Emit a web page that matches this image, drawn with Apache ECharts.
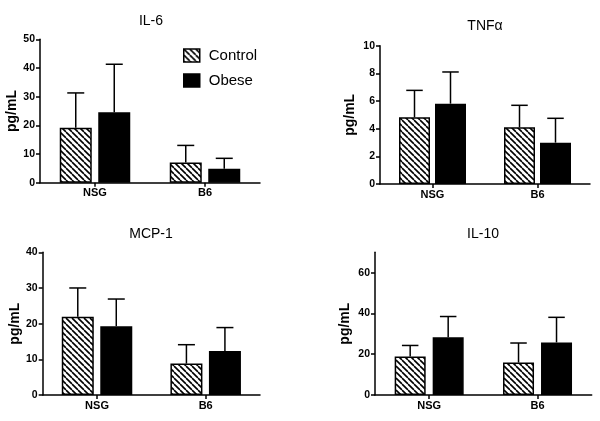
<!DOCTYPE html>
<html>
<head>
<meta charset="utf-8">
<script src="https://cdn.jsdelivr.net/npm/echarts@6/dist/echarts.min.js"></script>
<style>html,body{margin:0;padding:0;background:#fff}#c{width:600px;height:421px}</style>
</head>
<body>
<div id="c"></div>
<script>
// ---- data ----
var categories = ['NSG', 'B6'];
var seriesNames = ['Control', 'Obese'];
var panelTitles = ['IL-6', 'TNF\u03B1', 'MCP-1', 'IL-10'];
var yAxisName = 'pg/mL';

var il6Control = [19.2, 7.0];
var il6ControlErr = [12.1, 6.0];
var il6Obese = [24.6, 4.9];
var il6ObeseErr = [16.7, 3.6];

var tnfControl = [4.82, 4.1];
var tnfControlErr = [1.95, 1.59];
var tnfObese = [5.81, 2.99];
var tnfObeseErr = [2.29, 1.76];

var mcpControl = [21.9, 8.8];
var mcpControlErr = [8.1, 5.3];
var mcpObese = [19.3, 12.3];
var mcpObeseErr = [7.6, 6.6];

var il10Control = [18.9, 15.9];
var il10ControlErr = [5.4, 9.6];
var il10Obese = [28.3, 25.8];
var il10ObeseErr = [10.2, 12.3];

var il6Ticks = [0, 10, 20, 30, 40, 50];
var tnfTicks = [0, 2, 4, 6, 8, 10];
var mcpTicks = [0, 10, 20, 30, 40];
var il10Ticks = [0, 20, 40, 60];

// ---- build ----
var FONT = "'Liberation Sans', Arial, sans-serif";

function makeHatch() {
  var s = 6;
  var cv = document.createElement('canvas');
  cv.width = s; cv.height = s;
  var ctx = cv.getContext('2d');
  ctx.fillStyle = '#fff';
  ctx.fillRect(0, 0, s, s);
  ctx.strokeStyle = '#000';
  ctx.lineWidth = 1.6;
  for (var k = -1; k <= 1; k++) {
    ctx.beginPath();
    ctx.moveTo(k * s, 0);
    ctx.lineTo(k * s + s, s);
    ctx.stroke();
  }
  return cv;
}
var hatch = { image: makeHatch(), repeat: 'repeat' };

var panels = [
  { title: panelTitles[0], ctrl: il6Control, ctrlErr: il6ControlErr, ob: il6Obese, obErr: il6ObeseErr, ticks: il6Ticks, max: 50,
    grid: { left: 40, top: 39.3, width: 220, height: 143.4 }, bw: 32, gap: 6.5, nameGap: 17, titlePos: [151, 14] },
  { title: panelTitles[1], ctrl: tnfControl, ctrlErr: tnfControlErr, ob: tnfObese, obErr: tnfObeseErr, ticks: tnfTicks, max: 10,
    grid: { left: 380, top: 45.7, width: 210, height: 138.3 }, bw: 31, gap: 5, nameGap: 23, titlePos: [485, 19] },
  { title: panelTitles[2], ctrl: mcpControl, ctrlErr: mcpControlErr, ob: mcpObese, obErr: mcpObeseErr, ticks: mcpTicks, max: 40,
    grid: { left: 42.7, top: 252.3, width: 217.3, height: 142.7 }, bw: 32, gap: 6.5, nameGap: 20, titlePos: [151, 227] },
  { title: panelTitles[3], ctrl: il10Control, ctrlErr: il10ControlErr, ob: il10Obese, obErr: il10ObeseErr, ticks: il10Ticks, max: 70,
    grid: { left: 375, top: 252.3, width: 216.7, height: 142.7 }, bw: 31, gap: 7, nameGap: 23, titlePos: [483, 227] }
];

var option = {
  animation: false,
  backgroundColor: '#fff',
  textStyle: { fontFamily: FONT },
  title: [], grid: [], xAxis: [], yAxis: [], series: [],
  legend: {
    data: [
      { name: seriesNames[0], itemStyle: { color: hatch, borderColor: '#000', borderWidth: 1.5 } },
      { name: seriesNames[1], itemStyle: { color: '#000', borderColor: '#000', borderWidth: 1.5 } }
    ],
    orient: 'vertical', left: 183, top: 48, itemWidth: 16, itemHeight: 13, itemGap: 10, icon: 'rect',
    padding: 0,
    textStyle: { fontSize: 15, color: '#000', fontFamily: FONT, padding: [0, 0, 0, 4] }
  }
};

function errSeries(idx, vals, errs, offset, bw) {
  var data = vals.map(function (v, i) { return [i, v, errs[i]]; });
  return {
    type: 'custom', xAxisIndex: idx, yAxisIndex: idx, z: 5, silent: true,
    encode: { x: 0, y: 1 },
    data: data,
    renderItem: function (params, api) {
      var c = api.value(0), v = api.value(1), e = api.value(2);
      var b = api.coord([c, v]);
      var t = api.coord([c, v + e]);
      var x = b[0] + offset;
      var hw = bw / 4 + 0.5;
      return {
        type: 'group',
        children: [
          { type: 'line', shape: { x1: x, y1: b[1], x2: x, y2: t[1] }, style: { stroke: '#000', lineWidth: 1.5 } },
          { type: 'line', shape: { x1: x - hw, y1: t[1], x2: x + hw, y2: t[1] }, style: { stroke: '#000', lineWidth: 1.5 } }
        ]
      };
    }
  };
}

panels.forEach(function (p, i) {
  option.title.push({
    text: p.title, left: p.titlePos[0], top: p.titlePos[1], textAlign: 'center', padding: 0,
    textStyle: { fontSize: 14, fontWeight: 'normal', color: '#000', fontFamily: FONT }
  });
  option.grid.push(p.grid);
  option.xAxis.push({
    type: 'category', gridIndex: i, data: categories,
    axisLine: { lineStyle: { color: '#000', width: 1.5 } },
    axisTick: { show: true, alignWithLabel: true, length: 4, lineStyle: { color: '#000', width: 1.5 } },
    axisLabel: { color: '#000', fontWeight: 'bold', fontSize: 11, margin: 5, fontFamily: FONT },
    splitLine: { show: false }
  });
  option.yAxis.push({
    type: 'value', gridIndex: i, min: 0, max: p.max, interval: p.ticks[1] - p.ticks[0],
    name: yAxisName, nameLocation: 'middle', nameRotate: 90, nameGap: p.nameGap,
    nameTextStyle: { fontSize: 14, fontWeight: 'bold', color: '#000', fontFamily: FONT },
    axisLine: { show: true, lineStyle: { color: '#000', width: 1.5 } },
    axisTick: { show: true, length: 4, lineStyle: { color: '#000', width: 1.5 }, customValues: p.ticks },
    axisLabel: { color: '#000', fontWeight: 'bold', fontSize: 10.5, margin: 5, fontFamily: FONT, customValues: p.ticks },
    splitLine: { show: false }
  });
  option.series.push({
    name: seriesNames[0], type: 'bar', xAxisIndex: i, yAxisIndex: i, data: p.ctrl,
    barWidth: p.bw, barGap: (p.gap / p.bw * 100) + '%',
    itemStyle: { color: hatch, borderColor: '#000', borderWidth: 1.5 }
  });
  option.series.push({
    name: seriesNames[1], type: 'bar', xAxisIndex: i, yAxisIndex: i, data: p.ob,
    barWidth: p.bw, barGap: (p.gap / p.bw * 100) + '%',
    itemStyle: { color: '#000', borderColor: '#000', borderWidth: 1.5 }
  });
  var off = (p.bw + p.gap) / 2;
  option.series.push(errSeries(i, p.ctrl, p.ctrlErr, -off, p.bw));
  option.series.push(errSeries(i, p.ob, p.obErr, off, p.bw));
});

var chart = echarts.init(document.getElementById('c'), null, { renderer: 'canvas' });
chart.setOption(option);
</script>
</body>
</html>
